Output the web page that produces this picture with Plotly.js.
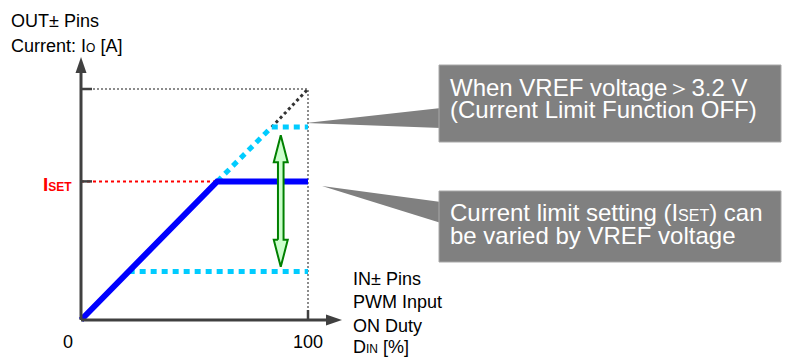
<!DOCTYPE html>
<html><head><meta charset="utf-8">
<script src="https://cdn.plot.ly/plotly-3.0.1.min.js"></script>
<style>html,body{margin:0;padding:0;background:#fff}</style>
</head><body><div id="chart" style="width:790px;height:361px"></div>
<script>
// ---- Data (ON duty [%] vs output current, full scale = 100) ----
const dutyLimited = [0, 60, 100];
const currentLimited = [0, 60, 60];
const dutyOff = [60, 84, 100];
const currentOff = [60, 83.5, 83.5];
const dutyLow = [21, 100];
const currentLow = [21, 21];
const dutyIdeal = [84, 100];
const currentIdeal = [83.5, 100];
const dutyFrame = [0, 100, 100];
const currentFrame = [100, 100, 0];
const dutyIset = [0, 60];
const currentIset = [60, 60];
const arrowDuty = 88;
const arrowRange = [23, 80];
const xTickVals = [0, 100];
const xTickLabels = ['0', '100'];
const yTickVals = [60, 100];

// ---- Geometry ----
const W = 790, H = 361, X0 = 81, Y0 = 320, SX = 2.27, SY = 2.31;
const FONT = "Arial, 'Liberation Sans', sans-serif";
const AX = '#404040';
const fx = p => p / W, fy = p => 1 - p / H;
function pixPath(pts) {
  return 'M' + pts.map(p => p[0] + ',' + (-p[1])).join(' L') + ' Z';
}
function pixShape(pts, fill, line) {
  return {type: 'path', xref: 'paper', yref: 'paper', xsizemode: 'pixel', ysizemode: 'pixel',
    xanchor: 0, yanchor: 1, path: pixPath(pts), fillcolor: fill,
    line: line || {width: 0}, layer: 'above'};
}

// green double arrow polygon built from arrowDuty / arrowRange
const hw = 7 / SX, sw = 2.8 / SX, hl = 27 / SY;
const aB = arrowRange[0], aT = arrowRange[1], ax = arrowDuty;
const arrowX = [ax - sw, ax - hw, ax, ax + hw, ax + sw, ax + sw, ax + hw, ax, ax - hw, ax - sw, ax - sw];
const arrowY = [aB + hl, aB + hl, aB, aB + hl, aB + hl, aT - hl, aT - hl, aT, aT - hl, aT - hl, aB + hl];

const traces = [
  {x: dutyFrame, y: currentFrame, mode: 'lines', line: {color: '#8c8c8c', width: 2, dash: '2px,2px'}},
  {x: dutyIset, y: currentIset, mode: 'lines', line: {color: '#ff0000', width: 2, dash: '3px,3px'}},
  {x: dutyIdeal, y: currentIdeal, mode: 'lines', line: {color: '#333333', width: 3, dash: '3px,3px'}},
  {x: dutyOff, y: currentOff, mode: 'lines', line: {color: '#00ccff', width: 5, dash: '6px,5px'}},
  {x: dutyLow, y: currentLow, mode: 'lines', line: {color: '#00ccff', width: 5, dash: '6px,5px'}},
  {x: dutyLimited, y: currentLimited, mode: 'lines', line: {color: '#0000ff', width: 6}},
  {x: arrowX, y: arrowY, mode: 'lines', fill: 'toself', fillcolor: '#ccffcc',
   line: {color: '#008000', width: 2}}
];

const shapes = [];
// axes
shapes.push({type: 'line', xref: 'x', yref: 'y', x0: 0, y0: 0, x1: 0, y1: (Y0 - 72) / SY, line: {color: AX, width: 3}});
shapes.push({type: 'line', xref: 'x', yref: 'y', x0: 0, y0: 0, x1: (327 - X0) / SX, y1: 0, line: {color: AX, width: 3}});
shapes.push(pixShape([[X0, 57], [X0 - 5.5, 73], [X0 + 5.5, 73]], AX));
shapes.push(pixShape([[342, Y0], [326, Y0 - 5.5], [326, Y0 + 5.5]], AX));
// ticks
yTickVals.forEach(v => shapes.push({type: 'line', xref: 'x', yref: 'y', x0: 0, x1: 11 / SX, y0: v, y1: v, line: {color: AX, width: 2.5}}));
shapes.push({type: 'line', xref: 'x', yref: 'y', x0: 100, x1: 100, y0: 0, y1: 10 / SY, line: {color: AX, width: 2.5}});
// callouts
const BOXFILL = '#808080';
shapes.push(pixShape([[306, 123], [441, 108], [441, 128]], BOXFILL));
shapes.push(pixShape([[322, 186], [441, 202], [441, 223]], BOXFILL));
shapes.push({type: 'rect', xref: 'paper', yref: 'paper', x0: fx(439), x1: fx(781), y0: fy(142), y1: fy(65),
  fillcolor: BOXFILL, line: {color: '#a8a8a8', width: 1}});
shapes.push({type: 'rect', xref: 'paper', yref: 'paper', x0: fx(439), x1: fx(781), y0: fy(262), y1: fy(191),
  fillcolor: BOXFILL, line: {color: '#a8a8a8', width: 1}});

function txt(text, px, py, opts) {
  return Object.assign({text: text, xref: 'paper', yref: 'paper', x: fx(px), y: fy(py),
    xanchor: 'left', yanchor: 'middle', showarrow: false,
    font: {family: FONT, size: 18, color: '#000'}}, opts || {});
}
const CF = {family: FONT, size: 24, color: '#fff'};
const annotations = [
  txt('OUT± Pins', 9, 21),
  txt('Current: I<span style="font-size:12px">O</span> [A]', 9, 46),
  txt('<b>I<span style="font-size:12px">SET</span></b>', 74, 184, {xanchor: 'right', font: {family: FONT, size: 19, color: '#ff0000'}}),
  txt('IN± Pins', 351, 279),
  txt('PWM Input', 351, 302),
  txt('ON Duty', 351, 326),
  txt('D<span style="font-size:12px">IN</span> [%]', 351, 347),
  txt('When VREF voltage＞3.2 V', 448, 87, {font: CF}),
  txt('(Current Limit Function OFF)', 448, 110, {font: CF}),
  txt('Current limit setting (I<span style="font-size:16px">SET</span>) can', 448, 212, {font: CF}),
  txt('be varied by VREF voltage', 448, 235, {font: CF})
];
xTickVals.forEach((v, i) => annotations.push({text: xTickLabels[i], xref: 'x', yref: 'paper', x: v, y: fy(342),
  xanchor: 'center', yanchor: 'middle', xshift: v === 0 ? -13 : 0, showarrow: false,
  font: {family: FONT, size: 18, color: '#000'}}));

const layout = {
  width: W, height: H, margin: {l: 0, r: 0, t: 0, b: 0},
  paper_bgcolor: '#fff', plot_bgcolor: '#fff', showlegend: false,
  xaxis: {range: [-X0 / SX, (W - X0) / SX], visible: false, fixedrange: true},
  yaxis: {range: [-(H - Y0) / SY, Y0 / SY], visible: false, fixedrange: true},
  shapes: shapes, annotations: annotations
};
Plotly.newPlot('chart', traces, layout, {staticPlot: true, displayModeBar: false});
</script></body></html>
